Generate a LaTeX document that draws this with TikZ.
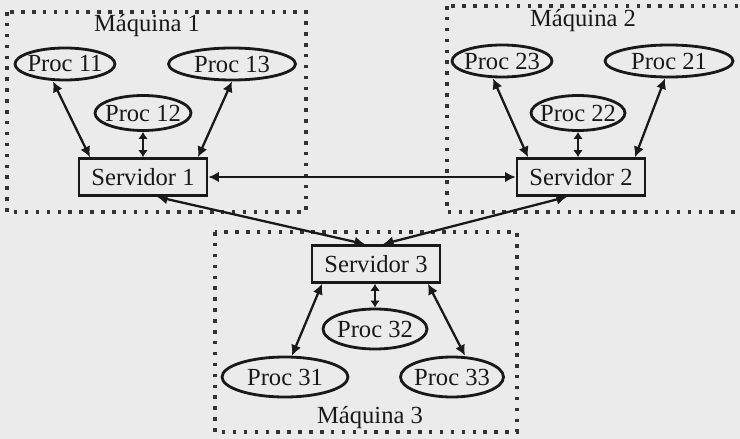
\documentclass[tikz,border=0pt]{standalone}
\usepackage{fontspec}
\setmainfont{Liberation Serif}
\usetikzlibrary{arrows.meta,shapes.geometric}

\begin{document}
\begin{tikzpicture}[x=0.02cm, y=-0.02cm, font=\fontsize{14}{16}\selectfont, text=black!90,
  proceso/.style={ellipse, draw=black!90, line width=1.6pt, inner xsep=-3pt, inner ysep=0pt, minimum height=0.64cm},
  servidor/.style={rectangle, draw=black!90, line width=1.5pt, minimum width=2.56cm, minimum height=0.74cm},
  maquina/.style={draw=black!80, line width=1.8pt, dash pattern=on 2pt off 4.2pt},
  flecha/.style={{Latex[length=6pt,width=6pt]}-{Latex[length=6pt,width=6pt]}, draw=black!90, line width=1.3pt},
  corta/.style={{Latex[length=4pt,width=5.5pt]}-{Latex[length=4pt,width=5.5pt]}, draw=black!90, line width=1.3pt}]
\clip (0,0) rectangle (740,439);
\fill[black!8] (0,0) rectangle (740,439);
% Maquinas
\draw[maquina] (7,12) rectangle (306,212);
\draw[maquina] (447,6) rectangle (746,212);
\draw[maquina] (215,232) rectangle (517,432);
\node (m1) at (147,26) {Máquina 1};
\node (m2) at (583,21) {Máquina 2};
\node (m3) at (370,418) {Máquina 3};
% Nodos
% ---
% Maquina 1
% ---
\node[proceso, minimum width=2cm] (p11) at (65,64) {Proc 11};
\node[proceso, minimum width=2.54cm] (p13) at (232,64) {Proc 13};
\node[proceso, minimum width=1.92cm, minimum height=0.7cm] (p12) at (143,113) {Proc 12};
\node[servidor] (s1) at (143,177) {Servidor 1};
% ---
% Maquina 2
% ---
\node[proceso, minimum width=2cm] (p23) at (502,61) {Proc 23};
\node[proceso, minimum width=2.56cm] (p21) at (669,61) {Proc 21};
\node[proceso, minimum width=1.88cm, minimum height=0.7cm] (p22) at (578,113) {Proc 22};
\node[servidor] (s2) at (581,177) {Servidor 2};
% ---
% Maquina 3
% ---
\node[servidor] (s3) at (376,264) {Servidor 3};
\node[proceso, minimum width=2.08cm, minimum height=0.8cm] (p32) at (375,329) {Proc 32};
\node[proceso, minimum width=2.52cm, minimum height=0.8cm] (p31) at (285,377) {Proc 31};
\node[proceso, minimum width=2.06cm, minimum height=0.8cm] (p33) at (452,377) {Proc 33};
% Ejes
\draw[flecha] ([xshift=-0.24cm]p11.south) -- ([xshift=-1.06cm]s1.north);
\draw[corta] (p12.south) -- (p12.south |- s1.north);
\draw[flecha] (p13.south) -- ([xshift=1.1cm]s1.north);

\draw[flecha] ([xshift=-0.18cm]p23.south) -- ([xshift=-1.06cm]s2.north);
\draw[corta] (p22.south) -- (p22.south |- s2.north);
\draw[flecha] ([xshift=-0.08cm]p21.south) -- ([xshift=1.08cm]s2.north);

\draw[flecha] (s1.east) -- (s2.west);
\draw[flecha] ([xshift=0.28cm]s1.south) -- ([xshift=-0.22cm]s3.north);
\draw[flecha] ([xshift=-0.28cm]s2.south) -- ([xshift=0.14cm]s3.north);

\draw[flecha] ([xshift=-1.08cm]s3.south) -- ([xshift=0.14cm]p31.north);
\draw[corta] (p32.north |- s3.south) -- (p32.north);
\draw[flecha] ([xshift=1.04cm]s3.south) -- ([xshift=0.26cm]p33.north);
\end{tikzpicture}
\end{document}
